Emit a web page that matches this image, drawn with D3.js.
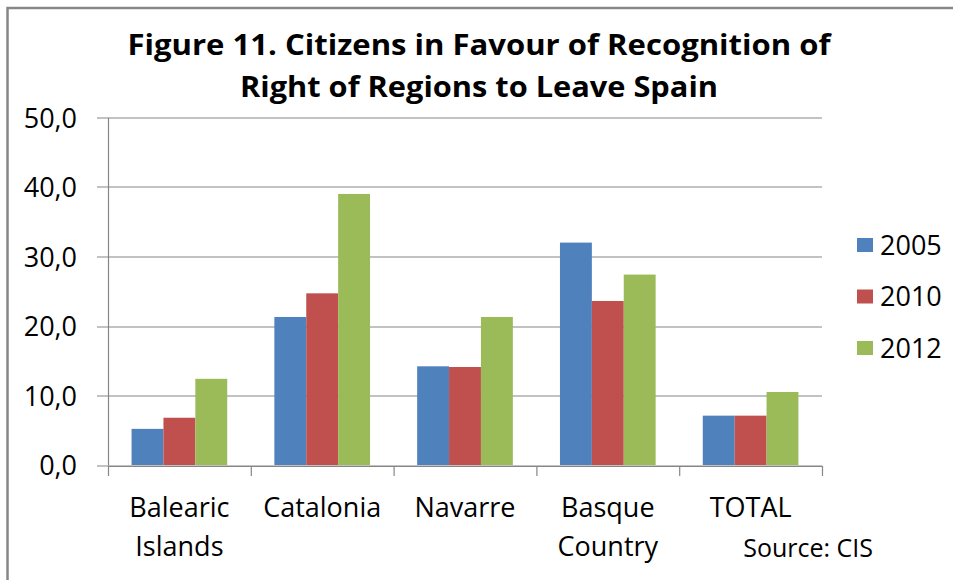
<!DOCTYPE html>
<html>
<head>
<meta charset="utf-8">
<script src="https://cdn.jsdelivr.net/npm/d3@7"></script>
<style>
  body { margin: 0; background: #fff; }
  text { font-family: "Open Sans", "Noto Sans", sans-serif; fill: #000; }
</style>
</head>
<body>
<svg id="chart"></svg>
<script>
// data
var categories = ["Balearic Islands", "Catalonia", "Navarre", "Basque Country", "TOTAL"];
var years = ["2005", "2010", "2012"];
var values2005 = [5.2, 21.3, 14.2, 32.0, 7.1];
var values2010 = [6.8, 24.7, 14.1, 23.6, 7.1];
var values2012 = [12.4, 39.0, 21.3, 27.4, 10.5];
var yTicks = [0, 10, 20, 30, 40, 50];
var colors = ["#4F81BD", "#C0504D", "#9BBB59"];
var titleLines = ["Figure 11. Citizens in Favour of Recognition of", "Right of Regions to Leave Spain"];
var titleWidths = [703, 478];   // widths of the two title lines in the original

var series = [values2005, values2010, values2012];

var width = 953,
    height = 580;

var margin = {top: 117.5, left: 108, right: 131, bottom: 115};
var w = width - margin.left - margin.right,
    h = height - margin.top - margin.bottom;

var svg = d3.select("#chart")
    .attr("width", width)
    .attr("height", height);

// outer frame, runs off the right and bottom edges
svg.append("rect")
    .attr("x", 7.5)
    .attr("y", 8)
    .attr("width", width + 20)
    .attr("height", height + 20)
    .attr("fill", "none")
    .attr("stroke", "#878787")
    .attr("stroke-width", 2.5);

var g = svg.append("g")
    .attr("transform", "translate(" + margin.left + "," + margin.top + ")");

var y = d3.scaleLinear()
    .domain([0, 50])
    .range([h, 0]);

var x = d3.scaleBand()
    .domain(categories)
    .range([0, w])
    .paddingInner(0.33)
    .paddingOuter(0.165);

var xs = d3.scaleBand()
    .domain(years)
    .range([0, x.bandwidth()]);

// gridlines (they stick out a little to the left like ticks)
g.selectAll(".grid")
    .data(yTicks)
    .enter().append("line")
    .attr("class", "grid")
    .attr("x1", -11)
    .attr("x2", w)
    .attr("y1", function (d) { return Math.round(y(d)) + 0.5; })
    .attr("y2", function (d) { return Math.round(y(d)) + 0.5; })
    .attr("stroke", "#868686")
    .attr("stroke-width", 1.2);

// bars
var groups = g.selectAll(".cat")
    .data(categories)
    .enter().append("g")
    .attr("class", "cat")
    .attr("transform", function (d) { return "translate(" + x(d) + ",0)"; });

groups.selectAll("rect")
    .data(function (d, i) {
        return years.map(function (yr, j) { return {year: yr, value: series[j][i], idx: j}; });
    })
    .enter().append("rect")
    .attr("x", function (d) { return xs(d.year); })
    .attr("y", function (d) { return y(d.value); })
    .attr("width", xs.bandwidth())
    .attr("height", function (d) { return h - y(d.value); })
    .attr("fill", function (d) { return colors[d.idx]; });

// y axis
var yAxis = g.append("g")
    .call(d3.axisLeft(y)
        .tickValues(yTicks)
        .tickSize(0)
        .tickPadding(31)
        .tickFormat(function (d) { return d3.format(".1f")(d).replace(".", ","); }));
yAxis.select(".domain").attr("stroke", "#868686").attr("stroke-width", 1.2);
yAxis.selectAll("text")
    .style("font-size", "27px")
    .style("font-family", "'Open Sans', sans-serif")
    .attr("dy", "0.36em");

// x axis: ticks on category boundaries
var xb = d3.scaleLinear().domain([0, categories.length]).range([0, w]);
var xAxis = g.append("g")
    .attr("transform", "translate(0," + (Math.round(h) + 0.5) + ")")
    .call(d3.axisBottom(xb)
        .tickValues(d3.range(categories.length + 1))
        .tickSize(10)
        .tickSizeOuter(0)
        .tickFormat(""));
xAxis.selectAll("line, path").attr("stroke", "#868686").attr("stroke-width", 1.2);

// category labels
var lbl = g.selectAll(".xlabel")
    .data(categories)
    .enter().append("text")
    .attr("class", "xlabel")
    .attr("text-anchor", "middle")
    .style("font-size", "27px")
    .attr("transform", function (d) { return "translate(" + (x(d) + x.bandwidth() / 2) + "," + (h + 52) + ")"; });

lbl.selectAll("tspan")
    .data(function (d) { return d.split(" "); })
    .enter().append("tspan")
    .attr("x", 0)
    .attr("dy", function (d, i) { return i ? 39 : 0; })
    .text(function (d) { return d; });

// legend
var legend = svg.append("g")
    .attr("transform", "translate(857,245)");

var item = legend.selectAll(".item")
    .data(years)
    .enter().append("g")
    .attr("class", "item")
    .attr("transform", function (d, i) { return "translate(0," + i * 51.5 + ")"; });

item.append("rect")
    .attr("x", 0)
    .attr("y", -7)
    .attr("width", 16)
    .attr("height", 14)
    .attr("fill", function (d, i) { return colors[i]; });

item.append("text")
    .attr("x", 23)
    .attr("dy", "0.36em")
    .style("font-size", "27px")
    .text(function (d) { return d; });

// title - squeezed to the original line widths (Calibri is narrower)
svg.append("g").selectAll("text")
    .data(titleLines)
    .enter().append("text")
    .attr("x", 479)
    .attr("y", function (d, i) { return 55 + i * 42; })
    .attr("text-anchor", "middle")
    .attr("textLength", function (d, i) { return titleWidths[i]; })
    .attr("lengthAdjust", "spacingAndGlyphs")
    .style("font-weight", "bold")
    .style("font-size", "28.5px")
    .text(function (d) { return d; });

// source note
svg.append("text")
    .attr("x", 873)
    .attr("y", 557)
    .attr("text-anchor", "end")
    .style("font-size", "25px")
    .text("Source: CIS");
</script>
</body>
</html>
